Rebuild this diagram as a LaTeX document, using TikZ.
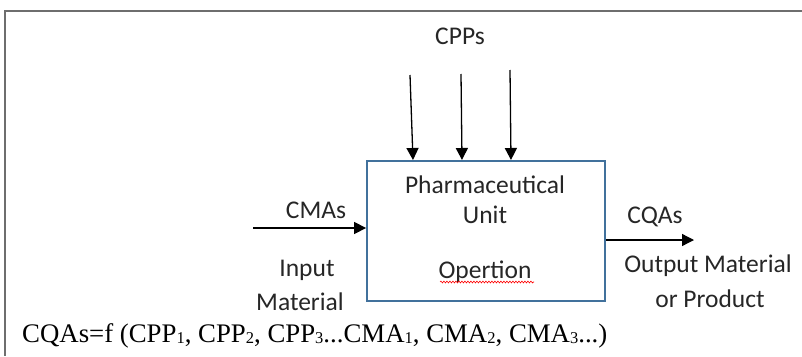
\documentclass[tikz,border=0pt]{standalone}
\usepackage{fontspec}
\setmainfont{Carlito}
\newfontfamily\serifface{Liberation Serif}
\usetikzlibrary{arrows.meta,decorations.pathmorphing}
\definecolor{framegray}{RGB}{110,110,110}
\definecolor{boxblue}{RGB}{65,113,156}
\newcommand{\lowsub}[1]{\raisebox{-1.2pt}{\fontsize{16.5}{18}\selectfont #1}}
\tikzset{
  lbl/.style={inner sep=0pt, anchor=base, font=\fontsize{25.5}{30}\selectfont, text=black!85},
  arr/.style={line width=1.3pt, -{Triangle[length=12pt,width=12pt]}},
  unitbox/.style={draw=boxblue, line width=1.8pt, minimum width=238pt, minimum height=140pt, inner sep=0pt},
  frame/.style={draw=framegray, line width=1.6pt},
  squiggle/.style={draw=red, line width=0.6pt, decorate, decoration={snake, amplitude=0.9pt, segment length=3pt}}
}
\begin{document}
\begin{tikzpicture}[x=1pt,y=-1pt]
\useasboundingbox (0,0) rectangle (802,356);
% frame
\draw[frame] (4,11) -- (802,11);
\draw[frame] (5,11) -- (5,356);
% unit box
\node[unitbox] (unit) at (486,231) {};
% labels
\node[lbl] (cpps) at (460,44) {CPPs};
\node[lbl] (cmas) at (316,218) {CMAs};
\node[lbl] (in1) at (307,276) {Input};
\node[lbl] (in2) at (300,310) {Material};
\node[lbl] (ph1) at (485,193) {Pharmaceutical};
\node[lbl] (ph2) at (485,223) {Unit};
\node[lbl] (op) at (485,278) {Opertion};
\node[lbl] (cqas) at (655,223) {CQAs};
\node[lbl] (out1) at (708,272) {Output Material};
\node[lbl] (out2) at (710,307) {or Product};
\node[inner sep=0pt, anchor=base west, font=\serifface\fontsize{26.8}{30}\selectfont] (formula) at (22,342)
  {CQAs=f (CPP\lowsub{1}, CPP\lowsub{2}, CPP\lowsub{3}...CMA\lowsub{1}, CMA\lowsub{2}, CMA\lowsub{3}...)};
% red wavy underline
\coordinate (sqa) at (440,282);
\coordinate (sqb) at (534,282);
\draw[squiggle] (sqa) -- (sqb);
% CPP arrows
\coordinate (p1) at (410,75);
\coordinate (p2) at (461,74);
\coordinate (p3) at (510,70);
\coordinate (t1) at (413,160);
\coordinate (t2) at (462,160);
\coordinate (t3) at (511,160);
\draw[arr] (p1) -- (t1);
\draw[arr] (p2) -- (t2);
\draw[arr] (p3) -- (t3);
% CMA input arrow
\coordinate (cmastart) at (253,228);
\draw[arr] (cmastart) -- (unit.west |- cmastart);
% CQA output arrow
\coordinate (cqaend) at (694,240);
\draw[arr] (unit.east |- cqaend) -- (cqaend);
\end{tikzpicture}
\end{document}
